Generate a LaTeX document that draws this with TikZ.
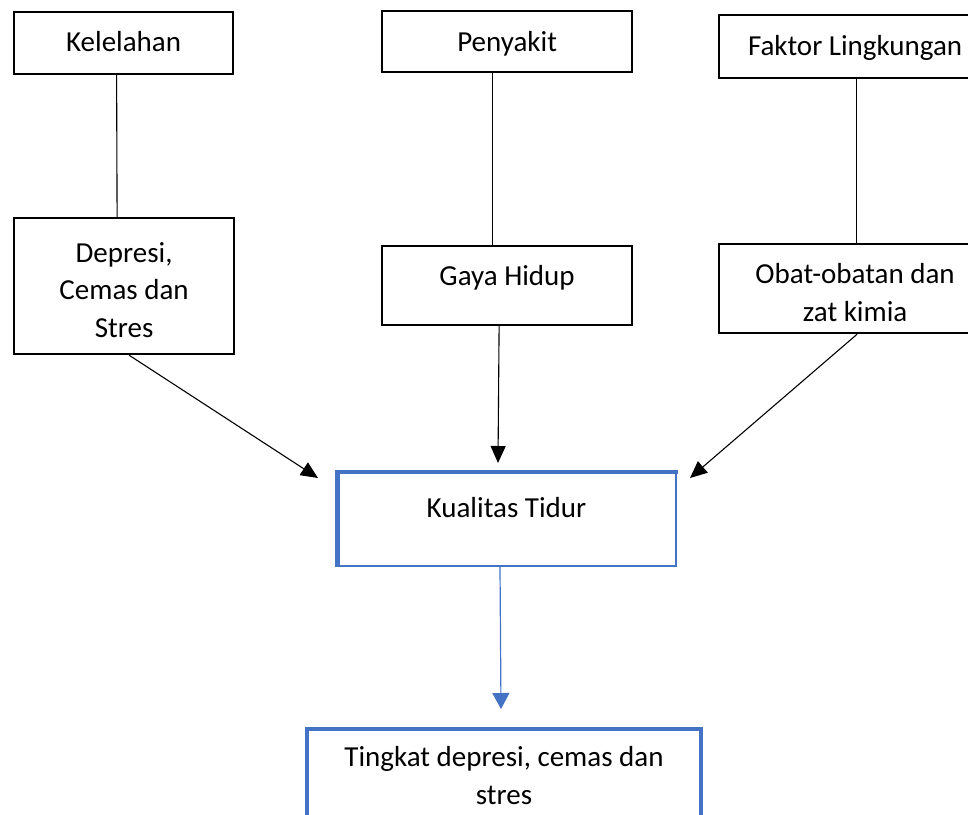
\documentclass[tikz,border=0pt]{standalone}
\usepackage{fontspec}
\setmainfont{Carlito}
\usetikzlibrary{arrows.meta}
\definecolor{wordblue}{HTML}{4472C4}
\newcommand{\mlines}[1]{\begin{tabular}[t]{@{}c@{}}#1\end{tabular}}
\begin{document}
\begin{tikzpicture}[x=1pt,y=-1pt,
  box/.style={draw=black, line width=2.2pt, inner sep=0pt, anchor=north west,
    font=\fontsize{29}{37.5}\selectfont},
  bluebox/.style={box, draw=wordblue},
  conn/.style={line width=1.1pt, black},
  arr/.style={conn, -{Triangle[length=17pt,width=15pt]}},
  barr/.style={line width=1.2pt, wordblue, -{Triangle[length=16pt,width=17pt]}}
]
\clip (0,0) rectangle (968,814);
\fill[white] (0,0) rectangle (968,814);

% top row
\node[box, minimum width=219pt, minimum height=62pt, text height=16pt, text depth=0pt] (kel) at (13,11) {Kelelahan};
\node[box, minimum width=250pt, minimum height=61pt, text height=19pt, text depth=0pt] (pen) at (381,10) {Penyakit};
\node[box, minimum width=272pt, minimum height=63pt, text height=17pt, text depth=0pt] (fak) at (718,14) {Faktor Lingkungan};

% second row
\node[box, minimum width=220pt, minimum height=136pt, text height=0pt, text depth=48pt] (dep) at (13,217) {\mlines{Depresi,\\Cemas dan\\Stres}};
\node[box, minimum width=250pt, minimum height=79pt, text height=0pt, text depth=1pt] (gaya) at (381,245) {Gaya Hidup};
\node[box, minimum width=272pt, minimum height=89pt, text height=0pt, text depth=10pt] (obat) at (718,243) {\mlines{Obat-obatan dan\\zat kimia}};

% Kualitas Tidur
\node[bluebox, line width=2pt, minimum width=339pt, minimum height=93pt, text height=0pt, text depth=5pt] (kual) at (336,472) {Kualitas Tidur};
\draw[wordblue, line width=5pt] ([xshift=1.5pt]kual.south west) -- ([xshift=1.5pt]kual.north west);
\draw[wordblue, line width=3.3pt] ([xshift=-1pt]kual.north west) -- ([xshift=1pt]kual.north east);

% bottom box
\node[bluebox, line width=4pt, minimum width=394pt, minimum height=120pt, text height=0pt, text depth=45pt] (ting) at (305,727) {\mlines{Tingkat depresi, cemas dan\\stres}};

% connectors
\draw[conn] ([xshift=-7pt]kel.south) -- ([xshift=-7pt]dep.north);
\draw[conn] ([xshift=-15pt]pen.south) -- ([xshift=-15pt]gaya.north);
\draw[conn] ([xshift=1pt]fak.south) -- ([xshift=1pt]obat.north);

\draw[arr] ([xshift=5pt]dep.south) -- ([shift={(-18pt,-6pt)}]kual.north west);
\draw[arr] ([xshift=2pt]obat.south) -- ([shift={(13pt,-6pt)}]kual.north east);
\draw[arr] ([xshift=-8pt]gaya.south) -- ([shift={(-8.5pt,9pt)}]kual.north);
\draw[barr] ([xshift=-6.5pt]kual.south) -- ([shift={(-3pt,18pt)}]ting.north);
\end{tikzpicture}
\end{document}
